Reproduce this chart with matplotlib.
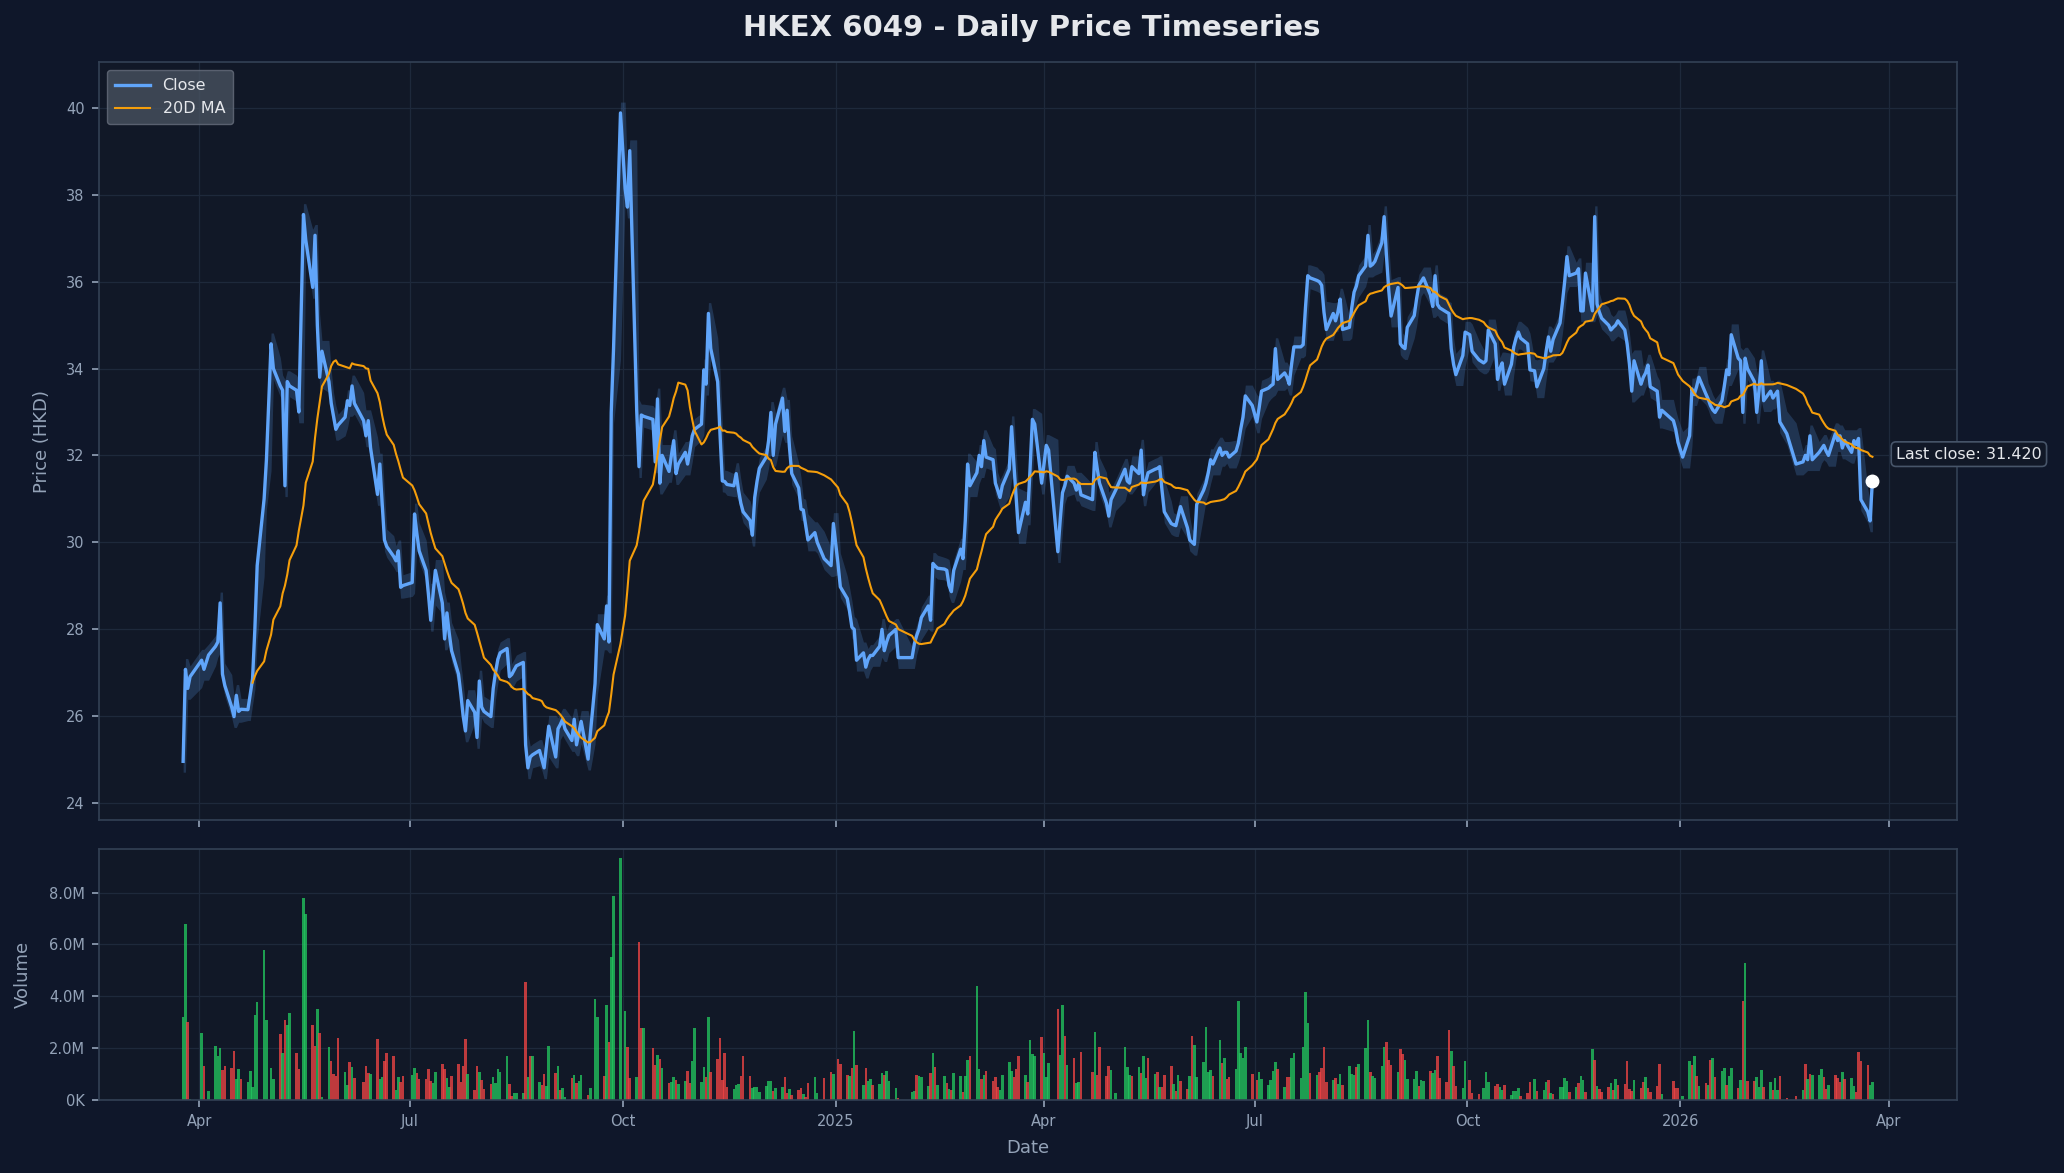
import numpy as np
import pandas as pd
import matplotlib
matplotlib.use("Agg")
import matplotlib.pyplot as plt
import matplotlib.dates as mdates
from matplotlib.ticker import FuncFormatter, MultipleLocator

title = "HKEX 6049 - Daily Price Timeseries"
first_day = "2024-03-25"
last_day = "2026-03-25"

# exchange closed on these days
hk_holidays = [
    "2024-03-29", "2024-04-01", "2024-04-04", "2024-05-01", "2024-05-15",
    "2024-06-10", "2024-07-01", "2024-09-18", "2024-10-01", "2024-10-11",
    "2024-12-25", "2024-12-26",
    "2025-01-01", "2025-01-29", "2025-01-30", "2025-01-31", "2025-04-04",
    "2025-04-18", "2025-04-21", "2025-05-01", "2025-05-05", "2025-07-01",
    "2025-10-01", "2025-10-07", "2025-10-29", "2025-12-25", "2025-12-26",
    "2026-01-01", "2026-02-17", "2026-02-18", "2026-02-19",
]

# close (HKD), one row per trading week
close_weeks = [
    [24.95, 27.07, 26.63, 26.90],
    [27.28, 27.07, 27.40],
    [27.60, 27.70, 28.60, 26.96, 26.70],
    [26.20, 25.98, 26.47, 26.10, 26.15],
    [26.14, 26.50, 26.85, 28.00, 29.46],
    [31.00, 31.90, 34.57, 34.00],
    [33.60, 33.50, 31.30, 33.70, 33.60],
    [33.50, 33.00, 37.55, 36.96],
    [35.87, 37.07, 35.00, 33.80, 34.40],
    [33.70, 33.20, 32.90, 32.60, 32.70],
    [32.88, 33.26, 33.15, 33.60, 33.20],
    [32.80, 32.45, 32.80, 32.17],
    [31.10, 31.80, 30.90, 30.05, 29.90],
    [29.67, 29.57, 29.80, 28.96, 29.00],
    [29.07, 30.65, 30.20, 29.80],
    [29.35, 28.80, 28.20, 28.80, 29.35],
    [28.60, 27.77, 28.37, 27.90, 27.50],
    [26.96, 26.50, 26.00, 25.65, 26.35],
    [26.08, 25.50, 26.80, 26.20, 26.10],
    [25.98, 26.63, 27.00, 27.30, 27.45],
    [27.55, 26.90, 26.95, 27.05, 27.15],
    [27.23, 25.33, 24.80, 25.05, 25.10],
    [25.20, 25.00, 24.80, 25.30, 25.76],
    [25.05, 25.70, 25.80, 25.92, 25.70],
    [25.43, 25.92, 25.33, 25.60, 25.87],
    [25.00, 25.60, 26.74, 28.10],
    [27.77, 28.53, 27.70, 32.99, 34.46],
    [39.89, 38.15, 37.72, 39.02],
    [33.04, 31.74, 32.93, 32.90],
    [32.83, 31.85, 33.30, 31.36, 32.00],
    [31.63, 32.00, 32.34, 31.58, 31.80],
    [32.07, 31.80, 32.10, 32.45, 32.60],
    [32.72, 33.97, 33.64, 35.27, 34.46],
    [33.70, 32.50, 31.41, 31.40, 31.33],
    [31.30, 31.58, 31.20, 30.90, 30.70],
    [30.50, 30.16, 31.03, 31.40, 31.70],
    [31.96, 32.34, 32.99, 32.00, 32.72],
    [33.32, 32.55, 33.04, 32.20, 31.58],
    [31.25, 30.76, 30.74, 30.40, 30.05],
    [30.22, 30.00, 29.62],
    [29.46, 30.43, 29.50, 28.97],
    [28.70, 28.40, 28.04, 27.99, 27.28],
    [27.45, 27.12, 27.30, 27.39, 27.39],
    [27.60, 27.99, 27.50, 27.70, 27.85],
    [27.99, 27.34],
    [27.34, 27.66, 27.85, 28.00, 28.26],
    [28.53, 28.20, 29.51, 29.45, 29.40],
    [29.38, 29.35, 29.00, 28.86, 29.35],
    [29.84, 29.62, 30.50, 31.80, 31.30],
    [31.60, 32.00, 31.74, 32.34, 31.96],
    [31.90, 31.36, 31.20, 31.03, 31.30],
    [31.68, 32.66, 31.80, 31.00, 30.22],
    [30.92, 30.65, 31.70, 32.83, 32.72],
    [31.36, 31.80, 32.23, 32.12],
    [29.78, 30.50, 31.14, 31.30, 31.52],
    [31.36, 31.20, 31.36, 31.09],
    [30.98, 32.07, 31.70, 31.36],
    [30.90, 30.60, 30.98, 31.20],
    [31.68, 31.41, 31.36, 31.74],
    [31.58, 32.12, 31.09, 31.40, 31.60],
    [31.68, 31.70, 31.74, 31.20, 30.70],
    [30.43, 30.40, 30.38, 30.60, 30.82],
    [30.33, 30.05, 30.00, 29.95, 30.87],
    [31.20, 31.36, 31.60, 31.90, 31.80],
    [32.17, 32.00, 32.07, 32.07, 31.96],
    [32.10, 32.28, 32.60, 32.88, 33.37],
    [33.15, 32.77, 33.10, 33.48],
    [33.55, 33.60, 33.64, 34.46, 33.75],
    [33.90, 33.80, 33.64, 34.10, 34.50],
    [34.50, 34.55, 35.40, 36.14, 36.09],
    [36.03, 36.00, 35.92, 35.30, 34.90],
    [35.27, 35.10, 35.30, 35.60, 34.90],
    [34.95, 35.40, 35.76, 35.90, 36.14],
    [36.36, 37.07, 36.36, 36.40, 36.47],
    [36.90, 37.50, 36.60, 35.80, 35.21],
    [35.87, 34.57, 34.50, 34.46, 34.95],
    [35.22, 35.60, 35.92, 36.00, 36.09],
    [35.70, 35.43, 36.14, 35.48, 35.40],
    [35.30, 35.27, 34.46, 34.10, 33.86],
    [34.30, 34.84, 34.78, 34.40],
    [34.20, 34.13, 34.18, 34.89],
    [34.57, 33.75, 34.00, 34.13, 33.64],
    [34.10, 34.50, 34.70, 34.84, 34.70],
    [34.57, 33.97, 33.95, 33.58],
    [34.00, 34.40, 34.73, 34.40, 34.67],
    [35.05, 35.50, 36.00, 36.58, 36.14],
    [36.20, 36.30, 35.33, 35.33, 36.20],
    [35.33, 37.50, 35.49, 35.30, 35.16],
    [35.00, 34.89, 34.95, 35.00, 35.10],
    [34.89, 34.57, 34.10, 33.48, 34.18],
    [33.64, 33.80, 33.90, 34.08, 33.58],
    [33.48, 32.88, 33.04],
    [32.80, 32.60, 32.30, 31.96],
    [32.45, 33.53, 33.40, 33.58, 33.80],
    [33.42, 33.30, 33.15, 33.05, 32.99],
    [33.26, 33.60, 33.97, 33.86, 34.78],
    [34.24, 34.18, 32.99, 34.24, 34.00],
    [33.70, 32.99, 33.50, 34.18, 33.26],
    [33.48, 33.32, 33.40, 33.48, 32.77],
    [32.50, 31.80],
    [31.85, 32.00, 31.90, 32.45, 31.90],
    [32.07, 32.15, 32.23, 32.10, 32.00],
    [32.50, 32.34, 32.45, 32.17, 32.34],
    [32.07, 32.34, 32.25, 32.39, 30.98],
    [30.70, 30.49, 31.42],
]

# volume, millions of shares, same rows
volume_weeks = [
    [3.20, 6.80, 3.00, 0.05],
    [2.60, 1.30, 0.36],
    [2.10, 1.70, 2.00, 1.17, 1.30],
    [1.25, 1.90, 0.80, 1.20, 0.80],
    [0.70, 1.13, 0.50, 3.27, 3.78],
    [5.77, 3.08, 1.25, 0.80],
    [2.53, 1.80, 3.08, 2.88, 3.35],
    [1.83, 1.20, 7.80, 7.17],
    [2.88, 2.10, 3.50, 2.57, 0.10],
    [2.06, 1.52, 1.00, 0.93, 2.38],
    [1.09, 0.58, 1.48, 1.29, 0.86],
    [0.70, 1.32, 1.05, 1.00],
    [2.34, 0.82, 0.90, 1.52, 1.83],
    [1.71, 0.39, 0.90, 0.70, 0.93],
    [0.97, 1.25, 1.05, 0.82],
    [0.82, 1.20, 0.74, 0.66, 1.09],
    [1.40, 1.20, 0.86, 0.50, 0.93],
    [1.40, 0.70, 1.32, 2.34, 1.00],
    [0.39, 1.32, 1.09, 0.78, 0.43],
    [0.62, 0.90, 0.66, 1.20, 1.09],
    [1.68, 0.62, 0.16, 0.27, 0.27],
    [0.27, 4.56, 0.90, 1.71, 1.71],
    [0.70, 0.58, 1.00, 0.55, 2.10],
    [1.05, 1.32, 0.39, 0.47, 0.10],
    [0.86, 0.97, 0.66, 0.74, 0.97],
    [0.19, 0.47, 3.90, 3.20],
    [0.93, 3.66, 2.22, 5.50, 7.87],
    [9.35, 3.43, 2.06, 0.86],
    [0.90, 6.10, 2.77, 2.77],
    [1.99, 1.36, 1.75, 1.60, 1.25],
    [0.66, 0.70, 0.90, 0.78, 0.62],
    [0.74, 1.13, 0.66, 1.52, 2.77],
    [0.70, 1.29, 0.90, 3.20, 1.09],
    [1.60, 2.38, 0.78, 1.83, 0.50],
    [0.43, 0.58, 0.62, 0.93, 1.68],
    [0.93, 0.47, 0.50, 0.50, 0.31],
    [0.55, 0.74, 0.74, 0.35, 0.47],
    [0.50, 0.90, 0.27, 0.43, 0.19],
    [0.39, 0.47, 0.23, 0.12, 0.66],
    [0.90, 0.27, 0.86],
    [1.09, 1.00, 1.60, 1.40],
    [0.97, 0.93, 1.25, 2.65, 1.36],
    [0.58, 1.25, 0.74, 0.82, 0.58],
    [0.62, 1.05, 0.97, 1.13, 0.74],
    [0.47, 0.08],
    [0.31, 0.35, 0.97, 0.93, 0.90],
    [0.55, 1.05, 1.83, 1.29, 0.58],
    [0.93, 0.66, 0.43, 0.39, 1.05],
    [0.93, 0.31, 0.93, 1.56, 1.71],
    [4.40, 1.20, 0.82, 0.97, 1.13],
    [0.74, 0.90, 0.50, 0.39, 0.97],
    [1.48, 1.13, 0.90, 1.20, 1.71],
    [0.97, 0.70, 2.30, 1.79, 1.71],
    [2.42, 1.83, 0.90, 1.44],
    [3.50, 1.75, 3.66, 2.45, 1.36],
    [1.64, 0.66, 0.70, 1.87],
    [1.09, 2.61, 0.97, 2.03],
    [0.93, 1.32, 1.17, 0.27],
    [2.06, 1.29, 0.97, 0.93],
    [1.29, 1.05, 1.68, 0.86, 1.64],
    [1.00, 1.09, 0.50, 0.50, 0.97],
    [1.32, 0.62, 0.35, 0.97, 0.74],
    [0.43, 0.93, 2.45, 2.14, 0.90],
    [1.48, 2.80, 1.09, 1.17, 0.93],
    [2.30, 1.44, 1.64, 0.82, 0.90],
    [1.20, 3.82, 1.83, 1.64, 2.03],
    [1.00, 0.78, 1.09, 0.82],
    [0.58, 0.78, 1.13, 1.48, 1.20],
    [0.50, 0.90, 0.90, 1.64, 1.83],
    [0.86, 2.06, 4.17, 2.96, 1.05],
    [0.97, 1.09, 1.25, 2.06, 0.70],
    [0.78, 0.86, 0.62, 1.00, 0.58],
    [1.32, 1.00, 0.97, 1.29, 1.40],
    [1.99, 3.08, 1.09, 0.93, 0.86],
    [1.32, 2.06, 2.22, 1.56, 1.36],
    [1.09, 1.95, 1.79, 1.56, 0.82],
    [0.82, 1.13, 0.55, 0.78, 0.74],
    [1.13, 1.05, 1.17, 1.68, 0.86],
    [0.70, 2.69, 1.91, 1.32, 0.55],
    [0.47, 1.52, 0.78, 0.27],
    [0.23, 0.47, 1.09, 0.70],
    [0.55, 0.62, 0.50, 0.39, 0.58],
    [0.19, 0.35, 0.35, 0.47, 0.16],
    [0.27, 0.70, 0.82, 0.35],
    [0.39, 0.70, 0.78, 0.27, 0.23],
    [0.50, 0.50, 0.86, 0.74, 0.31],
    [0.50, 0.66, 0.93, 0.78, 0.31],
    [1.95, 1.56, 0.55, 0.43, 0.31],
    [0.50, 0.66, 0.39, 0.82, 0.58],
    [0.62, 1.52, 0.43, 0.35, 0.78],
    [0.47, 0.70, 0.90, 0.47, 0.31],
    [0.55, 1.40, 0.23],
    [0.74, 0.47, 0.47, 0.16],
    [1.52, 1.36, 1.71, 0.93, 0.55],
    [0.66, 0.58, 1.56, 1.64, 0.90],
    [1.13, 1.25, 0.58, 0.93, 1.25],
    [0.47, 0.78, 3.82, 5.30, 0.74],
    [0.74, 0.90, 0.50, 1.17, 0.50],
    [0.70, 0.39, 0.86, 0.39, 0.93],
    [0.08, 0.16],
    [0.39, 1.40, 0.82, 1.00, 0.97],
    [0.97, 1.20, 0.90, 0.43, 0.58],
    [0.97, 0.86, 0.70, 1.09, 0.82],
    [0.86, 0.55, 0.31, 1.87, 1.52],
    [1.36, 0.58, 0.70],
]

# G = up session, R = down session
session_dir = [
    "GGRG", "GRG", "GGGRR", "RRGGR", "GGGGG", "GGGG", "RGRGG", "RRGG",
    "RRGRG", "GRRRR", "GGRGR", "RRRG", "RGGRR", "RGGRR", "GGRR", "RRRGG",
    "RRGGR", "RRRRG", "RRGRR", "RGGGG", "GRRGG", "GRGRG", "GRRGG", "RGRGG",
    "RGRGG", "RGGG", "RGRGG", "GGRR", "GRRG", "RRGRG", "RGGRG", "GRRGG",
    "GGRGR", "RRRRR", "GGGRR", "RGGGG", "GGGRG", "GRRGR", "RRGRR", "GGR",
    "RGRR", "RGRGR", "GRGGR", "GGRGG", "GR", "GGRGG", "GRGRG", "GRGRG",
    "GRGGR", "GGRGR", "RRRGG", "GGRRR", "GRGGG", "RGGG", "RGGRG", "RGGR",
    "RGRR", "RRGG", "GGGR", "GRGGR", "GRGRR", "RGRGR", "RGRGG", "GGGGR",
    "GRGRR", "GGGGG", "RRGG", "GGGGR", "GRRGG", "GGGGR", "GRRRR", "GRGGR",
    "GGGRG", "GGRGG", "GGRRR", "GRRGG", "GGRGG", "RGGRR", "RRGRR", "GGRR",
    "RGGG", "RRGGR", "GGGGR", "RRGR", "GGRGR", "GGGGR", "GRGGR", "GRGRR",
    "RGRGR", "RRRRG", "RRGRR", "RRG", "RRRG", "GRGRG", "RGRGR", "GGRGG",
    "RGRGR", "RGGGR", "GRGGR", "RR", "GRGRG", "GGRRG", "RRRGR", "GGRRR",
    "RGG",
]

for i, (c, v, s) in enumerate(zip(close_weeks, volume_weeks, session_dir)):
    assert len(c) == len(v) == len(s), f"week {i}"

close = np.array([x for w in close_weeks for x in w])
volume = np.array([x for w in volume_weeks for x in w]) * 1e6
up = np.array([ch == "G" for w in session_dir for ch in w])

dates = pd.bdate_range(first_day, last_day, freq="C", holidays=hk_holidays)
assert len(dates) == len(close), (len(dates), len(close))

df = pd.DataFrame({"close": close, "volume": volume, "up": up}, index=dates)
df["ma20"] = df["close"].rolling(20).mean()
prev = df["close"].shift(1).fillna(df["close"])
band_lo = np.minimum(df["close"], prev) - 0.25
band_hi = np.maximum(df["close"], prev) + 0.25

BG = "#0f172a"
PANEL = "#111827"
GRID = "#1e293b"
SPINE = "#334155"
TXT = "#94a3b8"

plt.rcParams["font.family"] = ["DejaVu Sans"]

fig = plt.figure(figsize=(20.64, 11.73), dpi=100, facecolor=BG)
ax = fig.add_axes([0.0478, 0.301, 0.9003, 0.646])
axv = fig.add_axes([0.0478, 0.0622, 0.9003, 0.2138], sharex=ax)

for a in (ax, axv):
    a.set_facecolor(PANEL)
    for sp in a.spines.values():
        sp.set_color(SPINE)
        sp.set_linewidth(1.2)
    a.tick_params(colors=TXT, labelsize=10.5, length=5, width=1.2, pad=5)
    a.grid(True, color=GRID, linewidth=0.9)
    a.set_axisbelow(True)

ax.fill_between(df.index, band_lo, band_hi, color="#60a5fa", alpha=0.2, linewidth=0)
ax.plot(df.index, df["close"], color="#60a5fa", linewidth=2.4, label="Close")
ax.plot(df.index, df["ma20"], color="#f59e0b", linewidth=1.5, label="20D MA")
last = df["close"].iloc[-1]
ax.plot(df.index[-1], last, "o", color="white", markersize=9, zorder=6)
ax.annotate(f"Last close: {last:.3f}", xy=(df.index[-1], last),
            xytext=(17, 19), textcoords="offset points", ha="left", va="center",
            fontsize=11.5, color="#e5e7eb", annotation_clip=False,
            bbox=dict(boxstyle="round,pad=0.3", fc=PANEL, ec="#475569", lw=1.2))

ax.set_ylim(23.6, 41.06)
ax.yaxis.set_major_locator(MultipleLocator(2))
ax.set_ylabel("Price (HKD)", color=TXT, fontsize=13, labelpad=11)
ax.tick_params(axis="x", labelbottom=False)

leg = ax.legend(loc="upper left", fontsize=11.5, facecolor="#4b5563",
                edgecolor="#6b7280", framealpha=0.75, labelcolor="#e5e7eb",
                borderpad=0.5, handlelength=2.2)

colors = np.where(df["up"], "#22c55e", "#ef4444")
axv.bar(df.index, df["volume"], width=1.1, color=colors, alpha=0.78, linewidth=0)
axv.set_ylim(0, 9.67e6)
axv.yaxis.set_major_locator(MultipleLocator(2e6))
axv.yaxis.set_major_formatter(FuncFormatter(
    lambda v, p: f"{v / 1e6:.1f}M" if v >= 1e6 else f"{v / 1e3:.0f}K"))
axv.set_ylabel("Volume", color=TXT, fontsize=13, labelpad=12)
axv.set_xlabel("Date", color=TXT, fontsize=13, labelpad=7)

axv.xaxis.set_major_locator(mdates.MonthLocator(bymonth=[1, 4, 7, 10]))


def month_label(x, pos):
    d = mdates.num2date(x)
    return str(d.year) if d.month == 1 else d.strftime("%b")


axv.xaxis.set_major_formatter(FuncFormatter(month_label))
pad = pd.Timedelta(days=36.5)
axv.set_xlim(df.index[0] - pad, df.index[-1] + pad)

fig.text(0.5, 0.976, title, ha="center", va="center", fontsize=21,
         fontweight="bold", color="#e5e7eb")

fig.savefig("out.png", dpi=100, facecolor=BG)
